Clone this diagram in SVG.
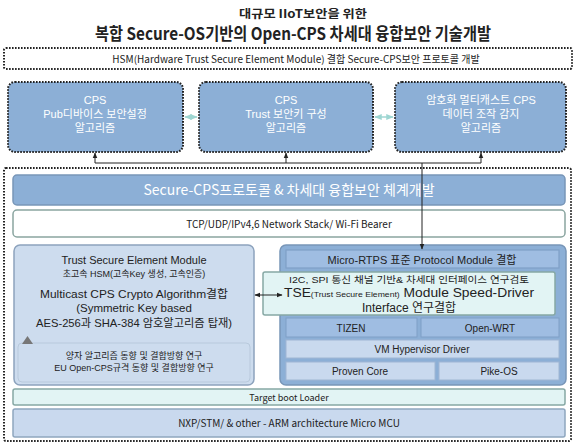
<svg xmlns="http://www.w3.org/2000/svg" width="577" height="445" viewBox="0 0 577 445">
<defs>
<style>
.t{font-family:"Noto Sans CJK KR","Noto Sans",sans-serif;text-anchor:middle;fill:#222}
.m{font-family:"Liberation Sans",Arial,"Noto Sans CJK KR",sans-serif;text-anchor:middle;fill:#222}
.a{font-family:"Liberation Sans",Arial,"Noto Sans CJK KR",sans-serif;text-anchor:middle;fill:#222}
.w{fill:#fff}
.dot{fill:none;stroke:#222;stroke-width:2;stroke-dasharray:1.6 1.4}
.blue{fill:#8cafd6;stroke:#222;stroke-width:2;stroke-dasharray:1.6 1.4}
.bar{fill:#8cafd6;stroke:#7896b8;stroke-width:1.5}
.lt{fill:#cddcee;stroke:#8da3bd;stroke-width:1.5}
.cy{fill:#e2f4f4;stroke:#86a8a4;stroke-width:1.5}
.cell{fill:#9fbde2;stroke:#7f9fc6;stroke-width:1}
.cell2{fill:#c9d9ee;stroke:#9fb6d3;stroke-width:1}
.ln{fill:none;stroke:#222;stroke-width:1}
.tl{fill:none;stroke:#9ed6d2;stroke-width:1.5}
</style>
<marker id="ah" viewBox="0 0 10 10" refX="9" refY="5" markerWidth="6" markerHeight="6" orient="auto-start-reverse">
<path d="M0,1 L10,5 L0,9 z" fill="#222"/>
</marker>
<marker id="ahc" viewBox="0 0 10 10" refX="9" refY="5" markerWidth="5" markerHeight="5" orient="auto-start-reverse">
<path d="M0,1 L10,5 L0,9 z" fill="#9ed6d2"/>
</marker>
</defs>
<rect width="577" height="445" fill="#fff"/>

<g id="title">
<text class="t" x="303" y="18" font-size="11" font-weight="bold" textLength="128" lengthAdjust="spacingAndGlyphs">대규모 IIoT보안을 위한</text>
<text class="t" x="293" y="40" font-size="17" font-weight="bold" textLength="396" lengthAdjust="spacingAndGlyphs">복합 Secure-OS기반의 Open-CPS 차세대 융합보안 기술개발</text>
</g>

<g id="hsm">
<rect class="dot" x="4" y="48" width="568" height="21" rx="2"/>
<text class="t" x="296" y="62.5" font-size="10">HSM(Hardware  Trust Secure Element  Module)  결합 Secure-CPS보안 프로토콜 개발</text>
</g>

<g id="box1">
<rect class="blue" x="8" y="82" width="175" height="70" rx="7"/>
<text class="m w" x="95" y="104" font-size="11">CPS</text>
<text class="m w" x="95" y="118" font-size="11">Pub디바이스 보안설정</text>
<text class="m w" x="95" y="132" font-size="11">알고리즘</text>
</g>
<g id="box2">
<rect class="blue" x="199" y="82" width="174" height="70" rx="7"/>
<text class="m w" x="286" y="104" font-size="11">CPS</text>
<text class="m w" x="286" y="118" font-size="11">Trust 보안키 구성</text>
<text class="m w" x="286" y="132" font-size="11">알고리즘</text>
</g>
<g id="box3">
<rect class="blue" x="395" y="82" width="171" height="70" rx="7"/>
<text class="m w" x="481" y="104" font-size="11">암호화 멀티캐스트 CPS</text>
<text class="m w" x="481" y="118" font-size="11">데이터 조작 감지</text>
<text class="m w" x="481" y="132" font-size="11">알고리즘</text>
</g>

<g id="outer">
<rect class="dot" x="4" y="168" width="567" height="273" rx="2"/>
</g>

<g id="secure">
<rect class="bar" x="13" y="175" width="552" height="30" rx="4"/>
<text class="t w" x="289" y="195" font-size="14">Secure-CPS프로토콜 &amp; 차세대 융합보안 체계개발</text>
</g>
<g id="tcp">
<rect x="13" y="210" width="552" height="27" rx="4" fill="#fff" stroke="#8aa5a0" stroke-width="1.5"/>
<text class="t" x="289" y="227.5" font-size="10">TCP/UDP/IPv4,6 Network Stack/ Wi-Fi Bearer</text>
</g>

<g id="left">
<rect class="lt" x="14" y="245" width="240" height="140" rx="6"/>
<text class="m" x="134" y="264" font-size="11">Trust Secure Element Module</text>
<text class="m" x="134" y="276.5" font-size="9">초고속 HSM(고속Key 생성, 고속인증)</text>
<text class="m" x="134" y="297.5" font-size="11.5" textLength="188" lengthAdjust="spacingAndGlyphs">Multicast CPS Crypto Algorithm결합</text>
<text class="m" x="134" y="312" font-size="11.5">(Symmetric Key based</text>
<text class="m" x="134" y="326.5" font-size="11.5" textLength="196" lengthAdjust="spacingAndGlyphs">AES-256과 SHA-384 암호알고리즘 탑재)</text>
<rect x="18" y="343" width="232" height="39" rx="4" fill="#cddcee" stroke="#b8c9dc" stroke-width="1"/>
<path d="M22,344 L27.5,336 L33,344 z" fill="#777"/>
<text class="m" x="134" y="359" font-size="9">양자 알고리즘 동향 및 결합방향 연구</text>
<text class="m" x="134" y="371" font-size="9">EU Open-CPS규격 동향 및 결합방향 연구</text>
</g>

<g id="right">
<rect class="bar" x="280" y="245" width="286" height="140" rx="6"/>
<rect x="286" y="250" width="273" height="18" fill="#9fbde2" stroke="#7f9fc6" stroke-width="1.2"/>
<text class="a" x="422" y="263.5" font-size="11">Micro-RTPS 표준 Protocol Module 결합</text>
<rect class="cy" x="263" y="272" width="292" height="43" rx="2"/>
<text class="m" x="409" y="282.5" font-size="9.5" textLength="240" lengthAdjust="spacingAndGlyphs">I2C, SPI 통신 채널 기반&amp;  차세대 인터페이스 연구검토</text>
<text class="m" x="409" y="297" font-size="12" textLength="250" lengthAdjust="spacingAndGlyphs">TSE<tspan font-size="7.5">(Trust Secure Element)</tspan> Module Speed-Driver</text>
<text class="m" x="409" y="311.5" font-size="12">Interface 연구결합</text>
<rect class="cell" x="286" y="318" width="131" height="19"/>
<rect class="cell" x="421" y="318" width="138" height="19"/>
<text class="a" x="351" y="331.5" font-size="10">TIZEN</text>
<text class="a" x="490" y="331.5" font-size="10">Open-WRT</text>
<rect class="cell2" x="286" y="340" width="273" height="18"/>
<text class="a" x="422" y="353" font-size="10">VM  Hypervisor Driver</text>
<rect class="cell2" x="286" y="362" width="149" height="18"/>
<rect class="cell2" x="439" y="362" width="120" height="18"/>
<text class="a" x="360" y="375" font-size="10">Proven Core</text>
<text class="a" x="499" y="375" font-size="10">Pike-OS</text>
</g>

<g id="boot">
<rect class="cy" x="13" y="389" width="552" height="16" rx="2"/>
<text class="t" x="289" y="400.5" font-size="9">Target boot Loader</text>
</g>
<g id="mcu">
<rect x="13" y="409" width="552" height="28" rx="2" fill="#c9d9ee" stroke="#8ea6bf" stroke-width="1.5"/>
<text class="t" x="289" y="426.5" font-size="10">NXP/STM/ &amp; other - ARM architecture Micro MCU</text>
</g>

<g id="connectors">
<line class="tl" x1="185" y1="117" x2="197" y2="117" marker-start="url(#ahc)" marker-end="url(#ahc)"/>
<line class="tl" x1="375" y1="117" x2="393" y2="117" marker-start="url(#ahc)" marker-end="url(#ahc)"/>
<polyline class="ln" points="95,163 481,163"/>
<line class="ln" x1="95" y1="163" x2="95" y2="153" marker-end="url(#ah)"/>
<line class="ln" x1="286" y1="163" x2="286" y2="153" marker-end="url(#ah)"/>
<line class="ln" x1="481" y1="163" x2="481" y2="153" marker-end="url(#ah)"/>
<line class="ln" x1="422" y1="163" x2="422" y2="249" marker-end="url(#ah)"/>
<line class="ln" x1="255" y1="295" x2="282" y2="295" marker-start="url(#ah)" marker-end="url(#ah)"/>
</g>
</svg>
